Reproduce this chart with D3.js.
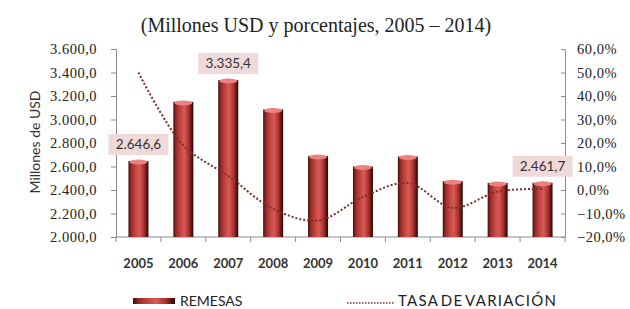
<!DOCTYPE html>
<html lang="es">
  <head>
    <meta charset="UTF-8" />
    <title>Remesas</title>
    <script src="https://d3js.org/d3.v7.min.js"></script>
    <style>
      body { margin: 0; background: #fff; overflow: hidden; }
      .title { font-family: "Liberation Serif", serif; font-size: 20px; fill: #222; }
      .axis path, .axis line { stroke: #8c8c8c; }
      .axis text { font-family: "Liberation Serif", serif; font-size: 14.5px; letter-spacing: 0.5px; fill: #222; }
      .xlab { font-family: Lato, sans-serif; font-weight: bold; font-size: 13px; fill: #333; }
      .ylab { font-family: Lato, sans-serif; font-size: 14px; fill: #333; }
      .dlab { font-family: Lato, sans-serif; font-size: 13.5px; fill: #333; }
      .legend { font-family: Lato, sans-serif; font-size: 14px; fill: #222; }
    </style>
  </head>
  <body>
    <div id="chart"></div>
    <script>
      // data
      var years = ["2005", "2006", "2007", "2008", "2009", "2010", "2011", "2012", "2013", "2014"];
      var remesas = [2646.6, 3150, 3335.4, 3085, 2690, 2600, 2685, 2475, 2460, 2461.7];
      var tasa = [50, 19, 6, -8, -13, -3, 3, -7.6, -0.7, 0.5];
      var labeled = ["2005", "2007", "2014"];
      var leftTicks = [2000, 2200, 2400, 2600, 2800, 3000, 3200, 3400, 3600];
      var rightTicks = [-20, -10, 0, 10, 20, 30, 40, 50, 60];

      var width = 630, height = 309;
      var pLeft = 116, pRight = 565, pTop = 49, pBottom = 237;

      var es = d3.formatLocale({ decimal: ",", thousands: ".", grouping: [3], currency: ["$", ""] });
      var fmt = es.format(",.1f");

      var svg = d3.select("#chart").append("svg")
        .attr("width", width)
        .attr("height", height);

      var defs = svg.append("defs");
      var grad = defs.append("linearGradient").attr("id", "barGrad")
        .attr("x1", "0").attr("x2", "1").attr("y1", "0").attr("y2", "0");
      [[0, "#3a0b0a"], [0.12, "#8e2a27"], [0.35, "#c44441"], [0.55, "#d85a57"],
       [0.78, "#a8302d"], [0.92, "#5a1311"], [1, "#240404"]].forEach(function (s) {
        grad.append("stop").attr("offset", s[0]).attr("stop-color", s[1]);
      });

      var x = d3.scaleBand().domain(years).range([pLeft, pRight])
        .paddingInner(0.555).paddingOuter(0.2775);
      var y = d3.scaleLinear().domain([2000, 3600]).range([pBottom, pTop]);
      var y2 = d3.scaleLinear().domain([-20, 60]).range([pBottom, pTop]);

      // title
      svg.append("text")
        .attr("class", "title")
        .attr("x", 316)
        .attr("y", 32)
        .attr("text-anchor", "middle")
        .text("(Millones USD y porcentajes, 2005 – 2014)");

      // left axis
      svg.append("g")
        .attr("class", "axis")
        .attr("transform", "translate(" + pLeft + ",0)")
        .call(d3.axisLeft(y).tickValues(leftTicks).tickSizeOuter(0).tickSize(5).tickPadding(14)
          .tickFormat(fmt));

      // right axis
      svg.append("g")
        .attr("class", "axis")
        .attr("transform", "translate(" + pRight + ",0)")
        .call(d3.axisRight(y2).tickValues(rightTicks).tickSizeOuter(0).tickSizeInner(-4).tickPadding(12)
          .tickFormat(function (d) { return es.format(".1f")(d) + "%"; }));

      // bottom axis
      var xa = svg.append("g").attr("class", "axis");
      xa.append("line")
        .attr("x1", pLeft).attr("x2", pRight)
        .attr("y1", pBottom).attr("y2", pBottom);
      xa.selectAll(".tk")
        .data(years.concat(["end"]))
        .enter().append("line")
        .attr("x1", function (d, i) { return pLeft + i * x.step(); })
        .attr("x2", function (d, i) { return pLeft + i * x.step(); })
        .attr("y1", pBottom).attr("y2", pBottom + 5);

      svg.selectAll(".xlab")
        .data(years)
        .enter().append("text")
        .attr("class", "xlab")
        .attr("x", function (d) { return x(d) + x.bandwidth() / 2; })
        .attr("y", 268)
        .attr("text-anchor", "middle")
        .text(function (d) { return d; });

      // y label
      svg.append("text")
        .attr("class", "ylab")
        .attr("transform", "translate(40,142) rotate(-90)")
        .attr("text-anchor", "middle")
        .text("Millones de USD");

      // bars
      var bars = svg.selectAll(".bar")
        .data(years)
        .enter().append("g")
        .attr("class", "bar");
      bars.append("rect")
        .attr("x", function (d) { return x(d); })
        .attr("y", function (d, i) { return y(remesas[i]); })
        .attr("width", x.bandwidth())
        .attr("height", function (d, i) { return pBottom - y(remesas[i]); })
        .attr("fill", "url(#barGrad)");
      bars.append("ellipse")
        .attr("cx", function (d) { return x(d) + x.bandwidth() / 2; })
        .attr("cy", function (d, i) { return y(remesas[i]) + 1; })
        .attr("rx", x.bandwidth() / 2 - 1)
        .attr("ry", 2.5)
        .attr("fill", "#e98280");

      // line
      var line = d3.line()
        .curve(d3.curveCatmullRom)
        .x(function (d, i) { return x(years[i]) + x.bandwidth() / 2; })
        .y(function (d) { return y2(d); });
      svg.append("path")
        .datum(tasa)
        .attr("fill", "none")
        .attr("stroke", "#7e2b2b")
        .attr("stroke-width", 2)
        .attr("stroke-dasharray", "2 2")
        .attr("d", line);

      // data labels
      var lab = svg.selectAll(".dl")
        .data(labeled)
        .enter().append("g")
        .attr("class", "dl");
      lab.append("rect")
        .attr("x", function (d) { return x(d) + x.bandwidth() / 2 - 30; })
        .attr("y", function (d) { return y(remesas[years.indexOf(d)]) - 27; })
        .attr("width", 60)
        .attr("height", 21)
        .attr("fill", "#f0dad9");
      lab.append("text")
        .attr("class", "dlab")
        .attr("x", function (d) { return x(d) + x.bandwidth() / 2; })
        .attr("y", function (d) { return y(remesas[years.indexOf(d)]) - 12; })
        .attr("text-anchor", "middle")
        .text(function (d) { return fmt(remesas[years.indexOf(d)]); });

      // legend
      svg.append("rect")
        .attr("x", 133).attr("y", 298)
        .attr("width", 42).attr("height", 6)
        .attr("fill", "url(#barGrad)");
      svg.append("text")
        .attr("class", "legend")
        .attr("x", 180).attr("y", 306)
        .text("REMESAS");
      svg.append("line")
        .attr("x1", 347).attr("x2", 395)
        .attr("y1", 303).attr("y2", 303)
        .attr("stroke", "#7e2b2b")
        .attr("stroke-width", 1.5)
        .attr("stroke-dasharray", "1.5 1.5");
      svg.append("text")
        .attr("class", "legend")
        .attr("x", 398).attr("y", 306)
        .style("font-size", "15px")
        .attr("word-spacing", "-3")
        .attr("textLength", 158)
        .attr("lengthAdjust", "spacing")
        .text("TASA DE VARIACIÓN");
    </script>
  </body>
</html>
